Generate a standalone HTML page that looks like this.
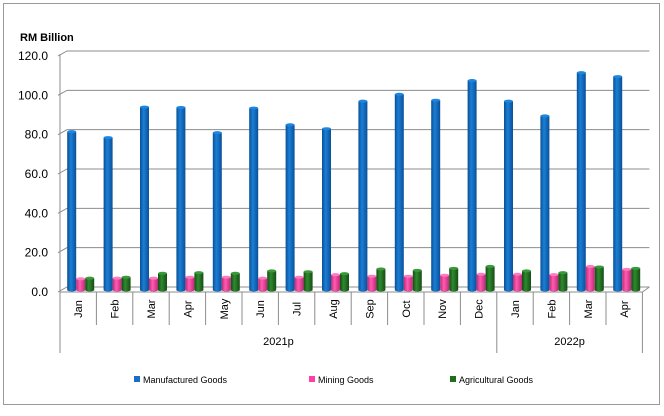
<!DOCTYPE html>
<html><head><meta charset="utf-8"><style>
body{margin:0;background:#fff;font-family:"Liberation Sans",sans-serif}
svg text{font-family:"Liberation Sans",sans-serif}
</style></head><body>
<svg width="664" height="411" viewBox="0 0 664 411">
<defs>
<linearGradient id="gb" x1="0" x2="1"><stop offset="0" stop-color="#0a4f94"/><stop offset="0.4" stop-color="#1a7fd6"/><stop offset="1" stop-color="#0b4f98"/></linearGradient>
<linearGradient id="gp" x1="0" x2="1"><stop offset="0" stop-color="#c02a78"/><stop offset="0.4" stop-color="#ff5cb0"/><stop offset="1" stop-color="#c0277a"/></linearGradient>
<linearGradient id="gg" x1="0" x2="1"><stop offset="0" stop-color="#124d12"/><stop offset="0.4" stop-color="#2f8a2f"/><stop offset="1" stop-color="#154d15"/></linearGradient>
</defs>
<rect x="3.5" y="3.5" width="656" height="401" fill="#fff" stroke="#9a9a9a"/>
<text x="20" y="41" font-size="11" font-weight="bold" fill="#000">RM Billion</text>
<g id="grid"></g>
<g id="bars"></g>
<g id="xaxis"></g>
<g>
<rect x="134" y="376" width="6" height="6" fill="#1a6fc4"/>
<text x="143" y="383" font-size="9">Manufactured Goods</text>
<rect x="309" y="376" width="6" height="6" fill="#ff3fa5"/>
<text x="318" y="383" font-size="9">Mining Goods</text>
<rect x="450" y="376" width="6" height="6" fill="#1e6e1e"/>
<text x="459" y="383" font-size="9">Agricultural Goods</text>
</g>
</svg>
<script>
const categories=["Jan","Feb","Mar","Apr","May","Jun","Jul","Aug","Sep","Oct","Nov","Dec","Jan","Feb","Mar","Apr"];
const years=["2021p","2022p"];
const yearCounts=[12,4];
const manufactured=[80,77,92.5,92.3,79.5,92,83.5,81.5,95.5,99,96,106,95.5,88,110,108];
const mining=[5.2,5.5,5.5,6,6,5.5,6,7.3,6.5,6.5,7,7.5,7.5,7.3,11.5,10];
const agricultural=[5.5,6,8,8.3,8,9.2,8.8,7.8,10.2,9.5,10.5,11.5,9.2,8.3,11.2,10.5];
const yTicks=[0,20,40,60,80,100,120];
const NS="http://www.w3.org/2000/svg";
const X0=60,CW=36.4,Y0=292,YMAX=120,YTOP=56,DX=7,DY=5;
const y=v=>Y0-(v/YMAX)*(Y0-YTOP);
const cx=i=>X0+CW*(i+0.5);
function mk(tag,attrs,parent){const e=document.createElementNS(NS,tag);for(const k in attrs)e.setAttribute(k,attrs[k]);parent.appendChild(e);return e;}
const grid=document.getElementById('grid'),bars=document.getElementById('bars'),xa=document.getElementById('xaxis');
const XR=X0+CW*categories.length;
yTicks.forEach(t=>{
 const yy=y(t);
 const l=mk('polyline',{points:`${X0-2},${yy} ${X0+DX},${yy-DY} ${XR+DX},${yy-DY}`,fill:'none',stroke:'#8c8c8c','stroke-width':1},grid);
 
 
 const tx=mk('text',{x:X0-12,y:yy+4,'font-size':12,'text-anchor':'end',fill:'#000'},grid);
 tx.textContent=t.toFixed(1);
 
 
});
const ax=mk('line',{x1:X0,y1:YTOP-2,x2:X0,y2:Y0,stroke:'#8c8c8c'},grid);


const bw=9;
const series=[[manufactured,'url(#gb)','#1c86e0',-11,'bar-manufactured'],[mining,'url(#gp)','#ff7ac0',-2,'bar-mining'],[agricultural,'url(#gg)','#3a9a3a',7,'bar-agricultural']];
categories.forEach((c,i)=>{
 series.forEach(([arr,fill,top,off,name])=>{
  const x=cx(i)+off, yt=y(arr[i])-3, yb=Y0-2;
  const g=mk('g',{},bars);
  
  
  mk('path',{d:`M${x},${yt} L${x},${yb} A${bw/2},1.5 0 0 0 ${x+bw},${yb} L${x+bw},${yt} Z`,fill:fill},g);
  mk('ellipse',{cx:x+bw/2,cy:yt,rx:bw/2,ry:1.5,fill:top},g);
 });
});
// x axis
mk('line',{x1:X0,y1:Y0,x2:XR,y2:Y0,stroke:'#8c8c8c'},xa);
mk('line',{x1:XR,y1:Y0,x2:XR+DX,y2:Y0-DY,stroke:'#8c8c8c'},xa);
for(let i=0;i<=categories.length;i++){
 const xx=X0+CW*i;
 const big=(i===0||i===12||i===16);
 mk('line',{x1:xx,y1:Y0,x2:xx,y2:big?353:325,stroke:'#8c8c8c'},xa);
}
categories.forEach((c,i)=>{
 const t=mk('text',{x:0,y:0,'font-size':11,'text-anchor':'middle',transform:`translate(${cx(i)+4},309) rotate(-90)`},xa);
 t.textContent=c;
 
 
});
let start=0;
years.forEach((yr,k)=>{
 const mid=X0+CW*(start+yearCounts[k]/2);
 const t=mk('text',{x:mid,y:345,'font-size':11,'text-anchor':'middle'},xa);
 t.textContent=yr;
 
 
 start+=yearCounts[k];
});
</script>
</body></html>
